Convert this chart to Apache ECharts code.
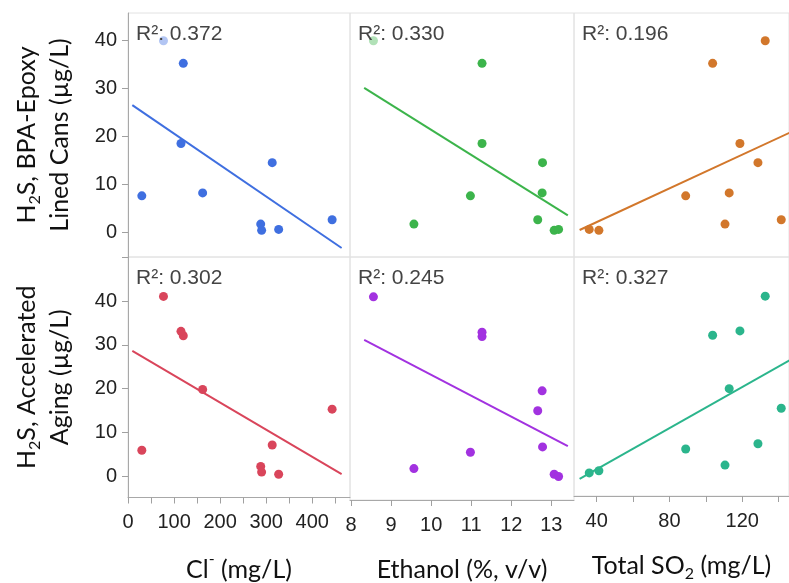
<!DOCTYPE html>
<html>
<head>
<meta charset="utf-8">
<script src="https://cdn.jsdelivr.net/npm/echarts@6/dist/echarts.min.js"></script>
<style>
  html, body { margin: 0; padding: 0; background: #ffffff; }
  #chart { width: 789px; height: 583px; }
</style>
</head>
<body>
<div id="chart"></div>
<script>
// One entry per wine, same order in every array
const chloride = [77, 120, 115, 30, 162, 313, 288, 290, 327, 443];                  // Cl- (mg/L)
const ethanol  = [8.56, 11.27, 11.27, 10.98, 12.77, 12.78, 9.57, 13.07, 13.18, 12.66]; // % v/v
const totalSO2 = [132.6, 103.7, 118.7, 88.9, 112.8, 128.6, 110.5, 41.2, 35.9, 141.4]; // mg/L
const h2sCans  = [39.9, 35.2, 18.5, 7.6, 8.2, 14.5, 1.7, 0.4, 0.6, 2.6];            // µg/L
const h2sAging = [41.1, 32.1, 33.1, 5.9, 19.8, 7.1, 2.2, 0.9, 0.4, 15.3];           // µg/L

// Coefficients of determination printed in each panel
const r2Cans  = ['0.372', '0.330', '0.196'];
const r2Aging = ['0.302', '0.245', '0.327'];

// Tick marks and tick labels
const clTicks   = [0, 50, 100, 150, 200, 250, 300, 350, 400, 450];
const clLabels  = [0, 100, 200, 300, 400];
const ethTicks  = [8, 9, 10, 11, 12, 13];
const ethLabels = [8, 9, 10, 11, 12, 13];
const so2Ticks  = [40, 60, 80, 100, 120, 140];
const so2Labels = [40, 80, 120];
const h2sTicks  = [0, 10, 20, 30, 40];

// ---- layout ----
const colLeft  = [128, 350, 574];
const colWidth = [222, 224, 215];
const rowTop    = [13, 257];
const rowHeight = [244, 243];

const xRanges = [[0, 481.8], [7.975, 13.565], [27.53, 145.66]];
const yRanges = [[-5.15, 45.69], [-4.92, 50.12]];

const colors = [
  ['#3f6fe0', '#3cb44b', '#d2772b'],
  ['#d9455b', '#a232e0', '#2bb58c']
];

const xSets = [chloride, ethanol, totalSO2];
const ySets = [h2sCans, h2sAging];
const r2Sets = [r2Cans, r2Aging];
const xTickSets  = [clTicks, ethTicks, so2Ticks];
const xLabelSets = [clLabels, ethLabels, so2Labels];

const TICK_FONT = '"Liberation Sans", Arial, Helvetica, sans-serif';
const TITLE_FONT = 'Lato, "Noto Sans", sans-serif';

// least-squares line over the data range widened by 5% on each side
function fitLine(xs, ys) {
  const n = xs.length;
  const mx = xs.reduce((a, b) => a + b, 0) / n;
  const my = ys.reduce((a, b) => a + b, 0) / n;
  let sxy = 0, sxx = 0;
  for (let i = 0; i < n; i++) {
    sxy += (xs[i] - mx) * (ys[i] - my);
    sxx += (xs[i] - mx) * (xs[i] - mx);
  }
  const slope = sxy / sxx;
  const lo = Math.min(...xs), hi = Math.max(...xs);
  const pad = 0.05 * (hi - lo);
  const f = x => my + slope * (x - mx);
  return [[lo - pad, f(lo - pad)], [hi + pad, f(hi + pad)]];
}

const grids = [], xAxes = [], yAxes = [], series = [], titles = [];

const yNames = [
  '{t|H}{s|2}{t|S, BPA-Epoxy}\n{t|Lined Cans (µg/L)}',
  '{t|H}{s|2}{t|S, Accelerated}\n{t|Aging (µg/L)}'
];
const xNames = [
  '{t|Cl}{p|-}{t| (mg/L)}',
  '{t|Ethanol (%, v/v)}',
  '{t|Total SO}{s|2}{t| (mg/L)}'
];

const titleRich = {
  t: { fontFamily: TITLE_FONT, fontSize: 25, color: '#111', lineHeight: 33 },
  s: { fontFamily: TITLE_FONT, fontSize: 16, color: '#111', lineHeight: 20, verticalAlign: 'bottom' },
  p: { fontFamily: TITLE_FONT, fontSize: 16, color: '#111', lineHeight: 38, verticalAlign: 'top' }
};

for (let r = 0; r < 2; r++) {
  for (let c = 0; c < 3; c++) {
    const k = grids.length;
    grids.push({
      left: colLeft[c], top: rowTop[r], width: colWidth[c], height: rowHeight[r],
      show: true, borderColor: '#e2e2e2', borderWidth: 1, backgroundColor: 'transparent'
    });

    const bottomRow = r === 1;
    xAxes.push({
      type: 'value', gridIndex: k,
      min: xRanges[c][0], max: xRanges[c][1],
      splitLine: { show: false },
      axisLine: { show: bottomRow, onZero: false, lineStyle: { color: '#a8a8a8', width: 1 } },
      axisTick: { show: bottomRow, inside: false, length: 6, customValues: xTickSets[c],
                  lineStyle: { color: '#a0a0a0' } },
      axisLabel: { show: bottomRow, margin: 15, customValues: xLabelSets[c],
                   fontFamily: TICK_FONT, fontSize: 20, color: '#222' },
      name: bottomRow ? xNames[c] : '',
      nameLocation: 'middle', nameGap: 53,
      nameTextStyle: { fontFamily: TITLE_FONT, fontSize: 25, color: '#111', rich: titleRich }
    });

    const firstCol = c === 0;
    const yTicks = r === 0 ? [yRanges[0][0]].concat(h2sTicks) : h2sTicks;
    yAxes.push({
      type: 'value', gridIndex: k,
      min: yRanges[r][0], max: yRanges[r][1],
      splitLine: { show: false },
      axisLine: { show: firstCol, onZero: false, lineStyle: { color: '#a8a8a8', width: 1 } },
      axisTick: { show: firstCol, inside: false, length: 6, customValues: yTicks,
                  lineStyle: { color: '#a0a0a0' } },
      axisLabel: { show: firstCol, margin: 11, customValues: h2sTicks,
                   fontFamily: TICK_FONT, fontSize: 20, color: '#222' },
      name: firstCol ? yNames[r] : '',
      nameLocation: 'middle', nameRotate: 90, nameGap: 52,
      nameTextStyle: { fontFamily: TITLE_FONT, fontSize: 25, color: '#111', lineHeight: 33, rich: titleRich }
    });

    const xs = xSets[c], ys = ySets[r];
    series.push({
      type: 'line', xAxisIndex: k, yAxisIndex: k,
      data: fitLine(xs, ys), symbol: 'none', silent: true, z: 1,
      lineStyle: { color: colors[r][c], width: 2 }
    });
    series.push({
      type: 'scatter', xAxisIndex: k, yAxisIndex: k,
      data: xs.map((x, i) => [x, ys[i]]),
      symbolSize: 9, z: 2,
      itemStyle: { color: colors[r][c], opacity: 1 }
    });

    titles.push({
      text: 'R²: ' + r2Sets[r][c],
      left: colLeft[c] + 6, top: rowTop[r] + 10,
      padding: [1, 3, 1, 2],
      backgroundColor: 'rgba(255,255,255,0.6)',
      z: 10,
      textStyle: { fontFamily: TICK_FONT, fontSize: 21, fontWeight: 'normal', color: '#444' }
    });
  }
}

const chart = echarts.init(document.getElementById('chart'), null, { renderer: 'canvas' });
chart.setOption({
  animation: false,
  backgroundColor: '#ffffff',
  title: titles,
  grid: grids,
  xAxis: xAxes,
  yAxis: yAxes,
  series: series
});
</script>
</body>
</html>
